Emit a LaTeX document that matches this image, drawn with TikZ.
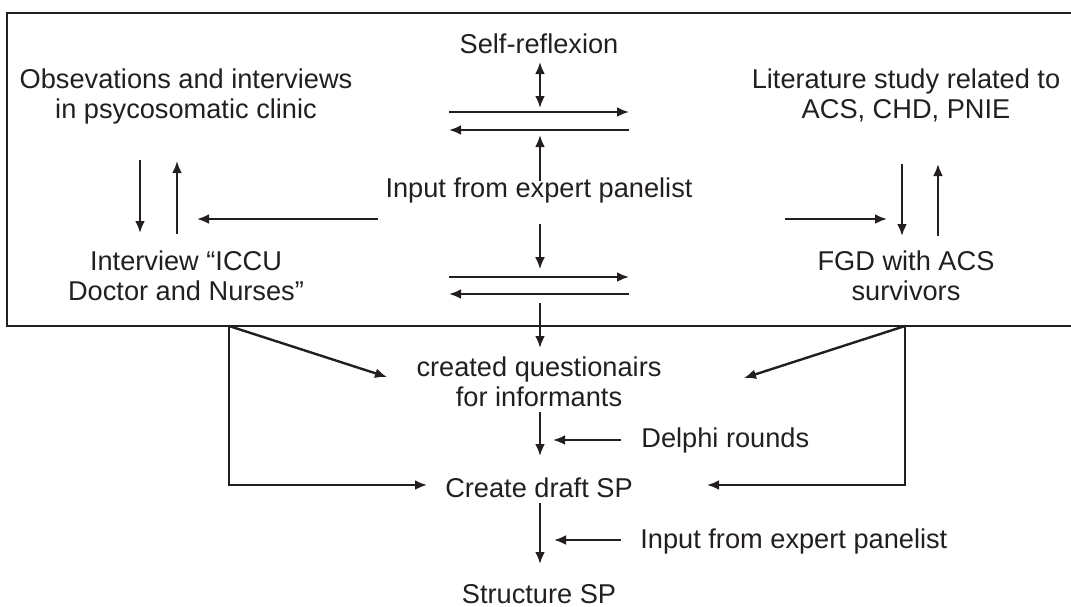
\documentclass[tikz,border=0pt]{standalone}
\usepackage{fontspec}
\setmainfont{Liberation Sans}
\usetikzlibrary{arrows.meta,calc,positioning}
\usepackage{xcolor}
\definecolor{ink}{HTML}{231F20}
\tikzstyle{lbl}=[align=center, inner sep=0pt, text=ink, font=\fontsize{13.6}{15}\selectfont, anchor=base]
\tikzstyle{l1}=[line width=1.2pt, draw=ink]
\tikzstyle{arr}=[l1, -{Latex[length=6pt,width=5pt]}]
\tikzstyle{darr}=[l1, {Latex[length=6pt,width=5pt]}-{Latex[length=6pt,width=5pt]}]

\begin{document}
\begin{tikzpicture}[x=0.5pt, y=-0.5pt]
    \useasboundingbox (0,0) rectangle (1071,606);

    % panel round the first steps
    \draw[l1, line width=1.4pt] (1071,13) -- (7,13) -- (7,326) -- (1071,326);

    % two-line labels sit on the baseline of their last line
    \node[lbl] at (539,53) (self) {Self-reflexion};
    \node[lbl] at (186,118) (obs) {Obsevations and interviews\\in psycosomatic clinic};
    \node[lbl] at (906,118) (lit) {Literature study related to\\ACS, CHD, PNIE};
    \node[lbl] at (539,197) (inp) {Input from expert panelist};
    \node[lbl] at (186,300) (icu) {Interview “ICCU\\Doctor and Nurses”};
    \node[lbl] at (906,300) (fgd) {FGD with ACS\\survivors};

    % below the panel
    \node[lbl] at (539,406) (quest) {created questionairs\\for informants};
    \node[lbl, anchor=base west] at (641,447) (delphi) {Delphi rounds};
    \node[lbl] at (539,497) (draft) {Create draft SP};
    \node[lbl, anchor=base west] at (640,548) (inp2) {Input from expert panelist};
    \node[lbl] at (539,603) (struct) {Structure SP};

    % arrow ends
    \coordinate (sr1) at (540,62);   \coordinate (sr2) at (540,108);
    \coordinate (fa1) at (449,112);  \coordinate (fa2) at (629,112);
    \coordinate (ba1) at (629,130);  \coordinate (ba2) at (449,130);
    \coordinate (up1) at (540,181);  \coordinate (up2) at (540,135);
    \coordinate (lf1) at (378,219);  \coordinate (lf2) at (197,219);
    \coordinate (rt1) at (785,219);  \coordinate (rt2) at (887,219);
    \coordinate (dn1) at (540,224);  \coordinate (dn2) at (540,269);
    \coordinate (fb1) at (449,277);  \coordinate (fb2) at (629,277);
    \coordinate (bb1) at (629,294);  \coordinate (bb2) at (449,294);
    \coordinate (ld1) at (140,160);  \coordinate (ld2) at (140,233);
    \coordinate (lu1) at (177,234);  \coordinate (lu2) at (177,161);
    \coordinate (rd1) at (902,164);  \coordinate (rd2) at (902,236);
    \coordinate (ru1) at (938,236);  \coordinate (ru2) at (938,164);
    \coordinate (qa1) at (540,303);  \coordinate (qa2) at (540,348);
    \coordinate (lc) at (229,326);   \coordinate (lt) at (387,377);
    \coordinate (rc) at (905,326);   \coordinate (rtq) at (744,378);
    \coordinate (ll) at (229,485);   \coordinate (lr) at (427,485);
    \coordinate (rl) at (905,485);   \coordinate (rr) at (707,485);
    \coordinate (da1) at (540,412);  \coordinate (da2) at (540,456);
    \coordinate (dp1) at (621,440);  \coordinate (dp2) at (553,440);
    \coordinate (sa1) at (540,503);  \coordinate (sa2) at (540,564);
    \coordinate (ip1) at (621,540);  \coordinate (ip2) at (554,540);

    \draw[darr] (sr1) -- (sr2);
    \draw[arr] (fa1) -- (fa2);
    \draw[arr] (ba1) -- (ba2);
    \draw[arr] (up1) -- (up2);
    \draw[arr] (lf1) -- (lf2);
    \draw[arr] (rt1) -- (rt2);
    \draw[arr, line width=0.8pt] (dn1) -- (dn2);
    \draw[arr] (fb1) -- (fb2);
    \draw[arr] (bb1) -- (bb2);
    \draw[arr] (ld1) -- (ld2);
    \draw[arr] (lu1) -- (lu2);
    \draw[arr] (rd1) -- (rd2);
    \draw[arr] (ru1) -- (ru2);

    \draw[arr] (qa1) -- (qa2);
    \draw[arr] (lc) -- (lt);
    \draw[arr] (rc) -- (rtq);
    \draw[arr] (lc) -- (ll) -- (lr);
    \draw[arr] (rc) -- (rl) -- (rr);
    \draw[arr] (da1) -- (da2);
    \draw[arr] (dp1) -- (dp2);
    \draw[arr] (sa1) -- (sa2);
    \draw[arr] (ip1) -- (ip2);

\end{tikzpicture}
\end{document}
